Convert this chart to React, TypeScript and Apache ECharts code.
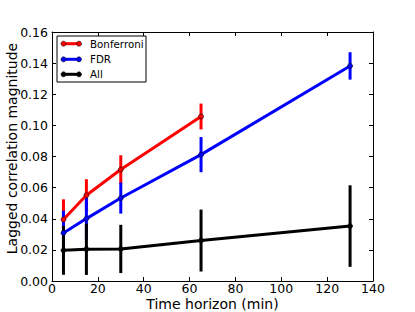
import React, { useEffect, useRef } from "react";
import * as echarts from "echarts";

// Time horizons (min)
const bonfHorizons = [5, 15, 30, 65];
const bonfMean = [0.0395, 0.0551, 0.0716, 0.1057];
const bonfErr = [0.013, 0.0103, 0.0092, 0.0083];

const fdrHorizons = [5, 15, 30, 65, 130];
const fdrMean = [0.0309, 0.0401, 0.0533, 0.0812, 0.1382];
const fdrErr = [0.0142, 0.0135, 0.01, 0.0113, 0.0088];

const allHorizons = [5, 15, 30, 65, 130];
const allMean = [0.0197, 0.0204, 0.0206, 0.026, 0.0353];
const allErr = [0.0157, 0.0165, 0.0155, 0.0199, 0.0262];

const seriesNames = ["Bonferroni", "FDR", "All"];
const seriesColors = ["#ff0000", "#0000ff", "#000000"];

const FONT = "DejaVu Sans";

function pointsOf(xs: number[], ys: number[]) {
  return xs.map((x, i) => [x, ys[i]]);
}
function errOf(xs: number[], ys: number[], es: number[]) {
  return xs.map((x, i) => [x, ys[i] - es[i], ys[i] + es[i]]);
}

function errSeries(data: number[][], color: string) {
  return {
    type: "custom",
    data,
    silent: true,
    renderItem: (params: any, api: any) => {
      const p1 = api.coord([api.value(0), api.value(1)]);
      const p2 = api.coord([api.value(0), api.value(2)]);
      return {
        type: "line",
        shape: { x1: p1[0], y1: p1[1], x2: p2[0], y2: p2[1] },
        style: { stroke: color, lineWidth: 3 },
      };
    },
  };
}

function lineSeries(name: string, data: number[][], color: string) {
  return {
    type: "line",
    name,
    data,
    symbol: "circle",
    symbolSize: 5,
    lineStyle: { color, width: 3 },
    itemStyle: { color, borderColor: "#000", borderWidth: 0.6 },
  };
}

export default function App() {
  const ref = useRef<HTMLDivElement>(null);
  useEffect(() => {
    if (!ref.current) return;
    const chart = echarts.init(ref.current, null, { renderer: "svg" });
    const groups = [
      { x: bonfHorizons, m: bonfMean, e: bonfErr },
      { x: fdrHorizons, m: fdrMean, e: fdrErr },
      { x: allHorizons, m: allMean, e: allErr },
    ];
    const series: any[] = [];
    groups.forEach((g, i) => {
      series.push(errSeries(errOf(g.x, g.m, g.e), seriesColors[i]));
      series.push(lineSeries(seriesNames[i], pointsOf(g.x, g.m), seriesColors[i]));
    });

    const axisCommon = {
      axisLine: { show: true, onZero: false, lineStyle: { color: "#000", width: 1 } },
      axisTick: { show: true, inside: true, length: 4, lineStyle: { color: "#000", width: 1 } },
      splitLine: { show: false },
    };

    // legend graphic
    const lx = 57, ly = 36, lw = 89, lh = 46;
    const rowY = [43.7, 59.3, 74.3];
    const legendChildren: any[] = [
      {
        type: "rect",
        shape: { x: lx, y: ly, width: lw, height: lh },
        style: { fill: "#fff", stroke: "#000", lineWidth: 1 },
      },
    ];
    seriesNames.forEach((n, i) => {
      const y = rowY[i];
      legendChildren.push({
        type: "line",
        shape: { x1: 63.5, y1: y, x2: 79, y2: y },
        style: { stroke: seriesColors[i], lineWidth: 3 },
      });
      [63.5, 79].forEach((cx) =>
        legendChildren.push({
          type: "circle",
          shape: { cx, cy: y, r: 2.5 },
          style: { fill: seriesColors[i], stroke: "#000", lineWidth: 0.6 },
        })
      );
      legendChildren.push({
        type: "text",
        x: 90,
        y,
        style: {
          text: n,
          fill: "#000",
          font: `10.3px "${FONT}"`,
          verticalAlign: "middle",
          align: "left",
        },
      });
    });

    chart.setOption({
      animation: false,
      backgroundColor: "#fff",
      textStyle: { fontFamily: FONT },
      grid: {
        left: 52,
        right: 42,
        top: 32,
        bottom: 31,
        containLabel: false,
        outerBoundsMode: "none",
      },
      xAxis: [
        {
          ...axisCommon,
          type: "value",
          min: 0,
          max: 140,
          interval: 20,
          position: "bottom",
          name: "Time horizon (min)",
          nameLocation: "middle",
          nameGap: 17,
          nameMoveOverlap: false,
          nameTextStyle: { fontFamily: FONT, fontSize: 14, lineHeight: 11, color: "#000" },
          axisLabel: {
            fontFamily: FONT,
            fontSize: 12.5,
            lineHeight: 10,
            color: "#000",
            margin: 2,
          },
        },
        {
          ...axisCommon,
          type: "value",
          min: 0,
          max: 140,
          interval: 20,
          position: "top",
          axisLabel: { show: false },
        },
      ],
      yAxis: [
        {
          ...axisCommon,
          type: "value",
          min: 0,
          max: 0.16,
          interval: 0.02,
          position: "left",
          name: "Lagged correlation magnitude",
          nameLocation: "middle",
          nameGap: 33,
          nameMoveOverlap: false,
          nameTextStyle: {
            fontFamily: FONT,
            fontSize: 14,
            color: "#000",
            padding: [0, 0, 0, 16],
          },
          axisLabel: {
            fontFamily: FONT,
            fontSize: 12.5,
            color: "#000",
            margin: 4,
            formatter: (v: number) => v.toFixed(2),
          },
        },
        {
          ...axisCommon,
          type: "value",
          min: 0,
          max: 0.16,
          interval: 0.02,
          position: "right",
          axisLabel: { show: false },
        },
      ],
      series,
      graphic: [{ type: "group", children: legendChildren }],
    });
    return () => chart.dispose();
  }, []);
  return (
    <div
      ref={ref}
      style={{ position: "fixed", left: 0, top: 0, width: 415, height: 312 }}
    />
  );
}
